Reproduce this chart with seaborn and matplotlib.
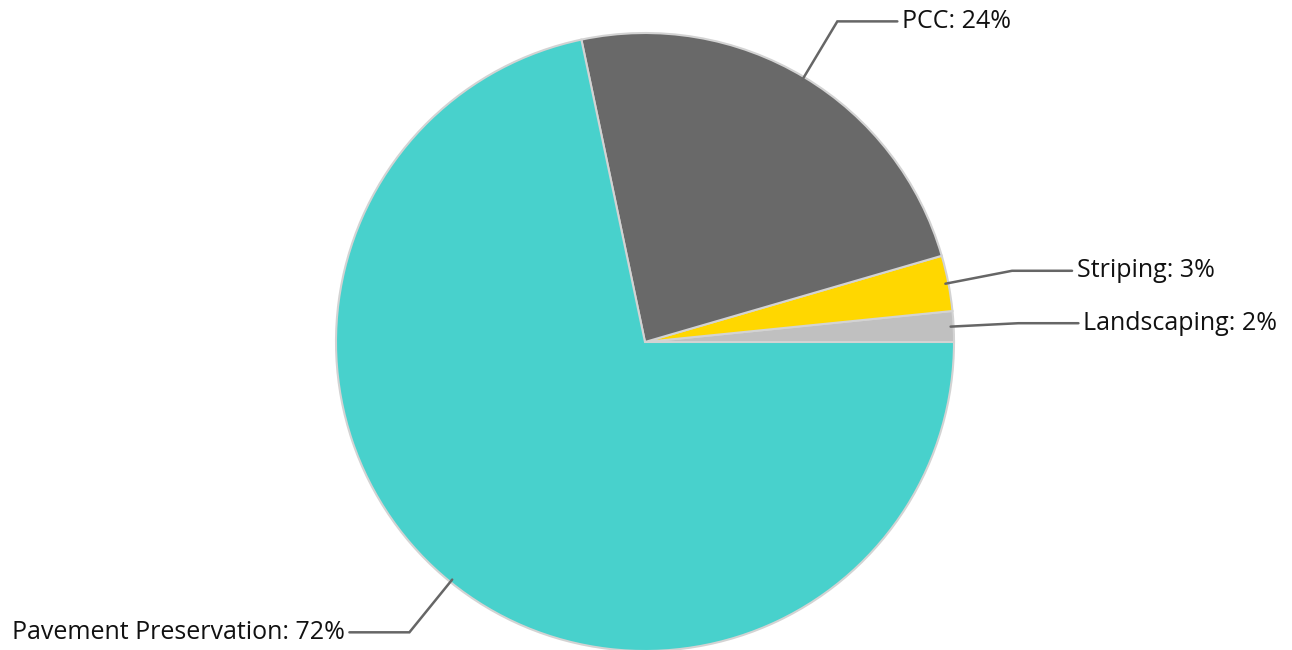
import numpy as np
import matplotlib
matplotlib.use("Agg")
import matplotlib.pyplot as plt
import seaborn as sns

# slice data, counter-clockwise from 3 o'clock
categories = ["Landscaping", "Striping", "PCC", "Pavement Preservation"]
values = [1.6, 2.9, 23.8, 71.7]
colors = ["#C0C0C0", "#FFD700", "#696969", "#48D1CC"]


def main():
    sns.set_theme(style="white")
    plt.rcParams["font.family"] = ["Open Sans", "DejaVu Sans"]

    fig = plt.figure(figsize=(12.92, 6.5), dpi=100)
    ax = fig.add_axes([0, 0, 1, 1])

    cx, cy, r = 645, 308, 309
    wedges, _ = ax.pie(values, colors=colors, startangle=0, counterclock=True,
                       center=(cx, cy), radius=r, frame=True,
                       wedgeprops={"edgecolor": "#D3D3D3", "linewidth": 1.5})
    ax.set_xlim(0, 1292)
    ax.set_ylim(0, 650)
    ax.set_aspect("equal")
    ax.axis("off")

    total = sum(values)
    for w, name, v in zip(wedges, categories, values):
        mid = np.deg2rad((w.theta1 + w.theta2) / 2)
        c, s = np.cos(mid), np.sin(mid)
        p0 = (cx + (r - 3) * c, cy + (r - 3) * s)
        p1 = (cx + r * 1.21 * c, cy + r * 1.21 * s)
        side = 1 if c >= 0 else -1
        p2 = (p1[0] + side * 60, p1[1])
        ax.plot([p0[0], p1[0], p2[0]], [p0[1], p1[1], p2[1]],
                color="#666666", lw=1.8, solid_joinstyle="miter")
        ax.text(p2[0] + side * 5, p2[1], f"{name}: {round(v / total * 100)}%",
                ha="left" if side > 0 else "right", va="center",
                fontsize=18, color="#111111")

    fig.savefig("out.png", dpi=100)


if __name__ == "__main__":
    main()
